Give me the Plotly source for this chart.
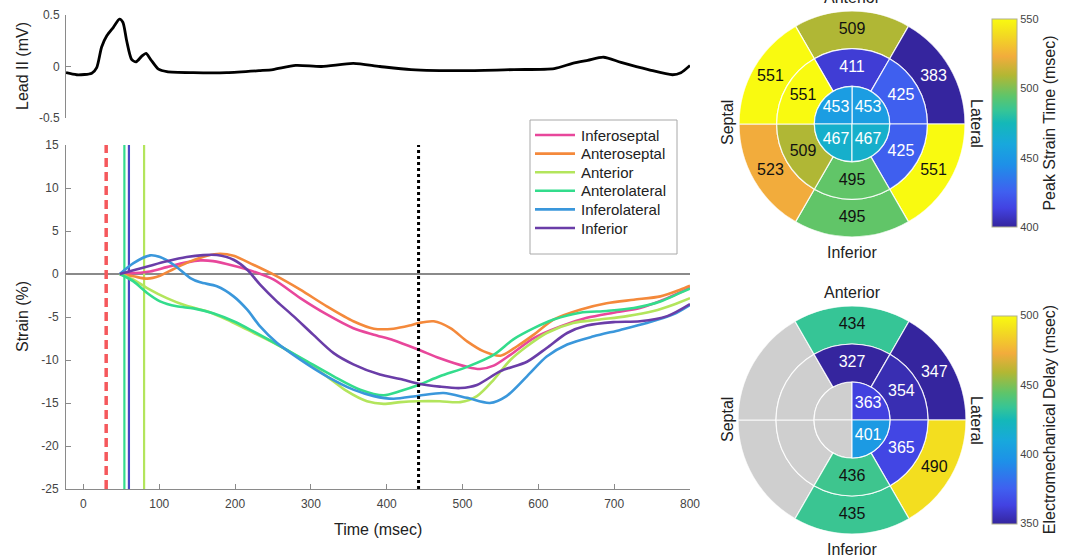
import plotly.graph_objects as go

W, H = 1077, 559
FONT = "Arial, Liberation Sans, sans-serif"

# ---------------- ECG (Lead II) ----------------
ecg_time = [-23, -9, 11, 17.5, 24, 31, 39.5, 47.5, 52, 57, 63.5, 69.5, 77, 82.5, 88.5, 99, 110,
            145, 189, 233, 250, 280, 314, 356, 391, 432, 503, 568, 621, 645, 665, 686, 709,
            745, 777, 788, 800]
ecg_mv = [-0.06, -0.08, -0.065, -0.01, 0.19, 0.30, 0.38, 0.46, 0.43, 0.25, 0.07, 0.046, 0.10,
          0.127, 0.07, -0.026, -0.05, -0.06, -0.06, -0.04, -0.03, 0.01, 0.0, 0.03, 0.0, -0.03,
          -0.04, -0.03, -0.02, 0.03, 0.06, 0.09, 0.04, -0.03, -0.08, -0.06, 0.01]

# ---------------- Segmental strain curves ----------------
segment_names = ["Inferoseptal", "Anteroseptal", "Anterior", "Anterolateral", "Inferolateral", "Inferior"]
segment_colors = ["#E8479B", "#F4893B", "#B3E55C", "#33DC8C", "#3A97DB", "#6A3DA8"]

t_inferoseptal = [48, 66, 88, 110, 136, 154, 171, 198, 224, 251, 286, 321, 356, 383, 409, 442, 470,
                  506, 523, 541, 563, 594, 629, 664, 699, 734, 770, 800]
s_inferoseptal = [0, 0.1, 0.3, 0.8, 1.35, 1.58, 1.5, 0.96, 0.3, -0.66, -2.8, -4.7, -6.3, -7.05, -7.7,
                  -8.8, -9.8, -10.8, -11.05, -10.66, -9.4, -7.45, -6.1, -5.1, -4.5, -3.96, -2.8, -1.6]

t_anteroseptal = [48, 66, 84, 101, 119, 141, 163, 180, 198, 224, 251, 286, 321, 356, 383, 409, 430,
                  442, 462, 484, 506, 528, 550, 572, 594, 620, 655, 690, 726, 761, 787, 800]
s_anteroseptal = [0, -0.27, -0.54, -0.2, 0.58, 1.47, 2.13, 2.36, 2.13, 1.08, -0.08, -1.82, -3.76,
                  -5.5, -6.36, -6.36, -6.0, -5.7, -5.5, -6.3, -7.83, -9.0, -9.5, -8.4, -7.05, -5.3,
                  -4.15, -3.4, -2.99, -2.6, -1.83, -1.36]

t_anterior = [48, 66, 84, 110, 136, 163, 189, 216, 251, 286, 321, 347, 374, 396, 418, 442, 470, 497,
              519, 541, 563, 585, 611, 646, 681, 717, 752, 778, 800]
s_anterior = [0, -0.66, -1.63, -2.8, -3.7, -4.34, -5.3, -6.47, -8.0, -9.77, -11.9, -13.6, -14.8,
              -15.1, -14.9, -14.8, -14.8, -14.9, -14.2, -12.3, -10.0, -8.4, -6.86, -5.7, -5.3, -4.9,
              -4.3, -3.57, -2.8]

t_anterolateral = [48, 66, 84, 101, 123, 145, 172, 198, 224, 260, 295, 330, 365, 396, 418, 442, 470,
                   506, 541, 567, 594, 620, 655, 690, 726, 761, 787, 800]
s_anterolateral = [0, -0.86, -2.2, -3.18, -3.76, -4.0, -4.6, -5.5, -6.67, -8.4, -10.16, -11.9, -13.45,
                   -14.1, -13.6, -12.9, -11.9, -10.8, -9.4, -7.6, -6.3, -5.3, -4.5, -4.3, -3.96, -3.2,
                   -2.2, -1.7]

t_inferolateral = [48, 66, 88, 101, 119, 141, 154, 176, 198, 216, 233, 255, 286, 321, 356, 383, 409,
                   442, 475, 506, 536, 558, 585, 611, 638, 673, 708, 743, 778, 800]
s_inferolateral = [0, 1.27, 2.17, 1.97, 1.08, -0.47, -0.97, -1.43, -2.6, -4.15, -6.1, -8.0, -9.96,
                   -11.9, -13.45, -14.2, -14.5, -14.15, -13.84, -14.4, -15.0, -14.2, -11.9, -9.6,
                   -8.2, -7.25, -6.5, -5.7, -4.7, -3.6]

t_inferior = [48, 66, 88, 110, 136, 158, 176, 198, 216, 233, 255, 277, 303, 330, 356, 391, 418, 442,
              470, 497, 519, 550, 585, 611, 638, 664, 699, 734, 770, 800]
s_inferior = [0, 0.43, 0.96, 1.47, 1.97, 2.2, 2.2, 1.66, 0.5, -1.24, -3.18, -4.9, -7.05, -9.2, -10.5,
              -11.7, -12.2, -12.75, -13.1, -13.26, -12.9, -11.3, -10.2, -8.6, -6.86, -6.0, -5.6, -5.5,
              -4.9, -3.5]

strain_times = [t_inferoseptal, t_anteroseptal, t_anterior, t_anterolateral, t_inferolateral, t_inferior]
strain_values = [s_inferoseptal, s_anteroseptal, s_anterior, s_anterolateral, s_inferolateral, s_inferior]

# event markers (msec)
qrs_onset = 30
onset_times = [54, 60, 80]
onset_colors = ["#33DC8C", "#4848C4", "#B3E55C"]
avc_time = 442

# ---------------- Bull's-eye data ----------------
basal_angles = [90, 30, -30, -90, -150, 150]
mid_angles = [90, 30, -30, -90, -150, 150]
apical_angles = [45, 135, 225, 315]

pst_basal = [509, 383, 551, 495, 523, 551]
pst_mid = [411, 425, 425, 495, 509, 551]
pst_apical = [453, 453, 467, 467]

emd_basal = [434, 347, 490, 435, None, None]
emd_mid = [327, 354, 365, 436, None, None]
emd_apical = [363, None, None, 401]

# parula-like colour map (as rendered in the reference)
CMAP = [[0.00, "#35259E"], [0.09, "#4242E2"], [0.17, "#3F60F0"], [0.30, "#1E90E8"],
        [0.40, "#18A8DC"], [0.50, "#14B8B8"], [0.56, "#36C596"], [0.63, "#5EC56A"],
        [0.73, "#B3B733"], [0.82, "#F2AC3C"], [0.93, "#F3DD20"], [1.00, "#F9FA10"]]

fig = go.Figure()

# ECG
fig.add_trace(go.Scatter(x=ecg_time, y=ecg_mv, mode="lines", xaxis="x", yaxis="y",
                         line=dict(color="black", width=2.8, shape="spline", smoothing=0.7),
                         showlegend=False, hoverinfo="skip"))

# vertical markers
fig.add_trace(go.Scatter(x=[qrs_onset, qrs_onset], y=[-25, 15], mode="lines", xaxis="x2", yaxis="y2",
                         line=dict(color="#F5585C", width=3.5, dash="9px,5px"),
                         showlegend=False, hoverinfo="skip"))
for t, c in zip(onset_times, onset_colors):
    fig.add_trace(go.Scatter(x=[t, t], y=[-25, 15], mode="lines", xaxis="x2", yaxis="y2",
                             line=dict(color=c, width=2.2), showlegend=False, hoverinfo="skip"))

# strain curves
for name, col, tt, ss in zip(segment_names, segment_colors, strain_times, strain_values):
    fig.add_trace(go.Scatter(x=tt, y=ss, mode="lines", name=name, xaxis="x2", yaxis="y2",
                             line=dict(color=col, width=2.6, shape="spline", smoothing=0.8),
                             showlegend=False))

fig.add_trace(go.Scatter(x=[avc_time, avc_time], y=[-25, 15], mode="lines", xaxis="x2", yaxis="y2",
                         line=dict(color="black", width=3, dash="dot"),
                         showlegend=False, hoverinfo="skip"))


def add_bullseye(subplot, basal, mid, apical, cmin, cmax, cbar):
    rings = [(basal_angles, basal, 2, 60, 2.5), (mid_angles, mid, 1, 60, 1.5),
             (apical_angles, apical, 0, 90, 0.6)]
    th, base, wid, val = [], [], [], []
    gth, gbase, gwid = [], [], []
    tth, tr, ttext, tcol = [], [], [], []
    for angles, values, r0, w, rt in rings:
        for a, v in zip(angles, values):
            if v is None:
                gth.append(a); gbase.append(r0); gwid.append(w)
            else:
                th.append(a); base.append(r0); wid.append(w); val.append(v)
                tth.append(a); tr.append(rt); ttext.append(str(v))
                tcol.append("white" if (v - cmin) / (cmax - cmin) < 0.5 else "#111111")
    edge = dict(color="rgba(255,255,255,0.85)", width=1.2)
    if gth:
        fig.add_trace(go.Barpolar(theta=gth, r=[1] * len(gth), base=gbase, width=gwid,
                                  marker=dict(color="#CFCFCF", line=edge),
                                  subplot=subplot, showlegend=False, hoverinfo="skip"))
    fig.add_trace(go.Barpolar(theta=th, r=[1] * len(th), base=base, width=wid,
                              marker=dict(color=val, colorscale=CMAP, cmin=cmin, cmax=cmax,
                                          line=edge, showscale=True, colorbar=cbar),
                              subplot=subplot, showlegend=False, hoverinfo="skip"))
    fig.add_trace(go.Scatterpolar(theta=tth, r=tr, text=ttext, mode="text",
                                  textfont=dict(size=16, color=tcol, family=FONT),
                                  subplot=subplot, showlegend=False, hoverinfo="skip"))


def cbar(title, ycenter, ticks):
    return dict(x=992 / W, xanchor="left", xpad=0, ypad=0, y=(H - ycenter) / H, yanchor="middle",
                len=208 / H, lenmode="fraction", thickness=25, thicknessmode="pixels",
                outlinewidth=1, outlinecolor="#B0B090", tickvals=ticks, ticks="",
                tickfont=dict(size=11, color="#444444", family=FONT),
                title=dict(text=title, side="right", font=dict(size=16, color="#222222", family=FONT)))


add_bullseye("polar", pst_basal, pst_mid, pst_apical, 400, 550,
             cbar("Peak Strain Time (msec)", 123, [400, 450, 500, 550]))
add_bullseye("polar2", emd_basal, emd_mid, emd_apical, 350, 500,
             cbar("Electromechanical Delay (msec)", 419.5, [350, 400, 450, 500]))

polar_common = dict(bgcolor="rgba(0,0,0,0)", hole=0, bargap=0,
                    radialaxis=dict(visible=False, range=[0, 3]),
                    angularaxis=dict(visible=False, rotation=0, direction="counterclockwise"))

x_ticks = list(range(0, 801, 100))
y_ticks = list(range(-25, 16, 5))
ecg_ticks = [-0.5, 0, 0.5]

axis_common = dict(showgrid=False, showline=True, linecolor="#8A8A8A", linewidth=1,
                   ticks="inside", ticklen=5, tickcolor="#8A8A8A",
                   tickfont=dict(size=12, color="#444444", family=FONT), automargin=False)

fig.update_layout(
    width=W, height=H, template="none",
    paper_bgcolor="white", plot_bgcolor="white",
    margin=dict(l=0, r=0, t=0, b=0, autoexpand=False),
    font=dict(family=FONT, color="#222222"),
    xaxis=dict(domain=[66 / W, 690 / W], range=[-23, 800], visible=False, anchor="y"),
    yaxis=dict(domain=[(H - 118) / H, (H - 15) / H], range=[-0.5, 0.5], anchor="x",
               tickvals=ecg_ticks, ticktext=["%g" % v for v in ecg_ticks],
               zeroline=False, ticklabelstandoff=3, **axis_common),
    xaxis2=dict(domain=[66 / W, 690 / W], range=[-23, 800], anchor="y2",
                tickvals=x_ticks, ticktext=[str(v) for v in x_ticks], zeroline=False,
                ticklabelstandoff=4, **axis_common),
    yaxis2=dict(domain=[(H - 489) / H, (H - 145) / H], range=[-25, 15], anchor="x2",
                tickvals=y_ticks, ticktext=[str(v) for v in y_ticks],
                zeroline=True, zerolinecolor="#8A8A8A", zerolinewidth=1.5,
                ticklabelstandoff=4, **axis_common),
    polar=dict(domain=dict(x=[739 / W, 965 / W], y=[(H - 237) / H, (H - 11) / H]), **polar_common),
    polar2=dict(domain=dict(x=[738 / W, 966 / W], y=[(H - 534) / H, (H - 306) / H]), **polar_common),
    showlegend=False,
)

# legend box (drawn in paper coordinates)
LX0, LX1, LY0, LY1 = 530, 677, 120, 254
ROW0, ROWSTEP = 135, 18.6
fig.add_shape(type="rect", xref="paper", yref="paper", x0=LX0 / W, x1=LX1 / W,
              y0=(H - LY1) / H, y1=(H - LY0) / H, fillcolor="white",
              line=dict(color="#A8A8A8", width=1), layer="above")
for i, (name, col) in enumerate(zip(segment_names, segment_colors)):
    yy = (H - (ROW0 + i * ROWSTEP)) / H
    fig.add_shape(type="line", xref="paper", yref="paper", x0=535 / W, x1=575 / W, y0=yy, y1=yy,
                  line=dict(color=col, width=2.6), layer="above")
    fig.add_annotation(text=name, x=579 / W, y=yy, xref="paper", yref="paper", xanchor="left",
                       yanchor="middle", showarrow=False,
                       font=dict(size=15, color="#222222", family=FONT))

ann = dict(showarrow=False, xref="paper", yref="paper", font=dict(size=16, color="#222222", family=FONT))
labels = [
    ("Lead II (mV)", 22, 66, -90), ("Strain (%)", 22, 317, -90), ("Time (msec)", 378, 529, 0),
    ("Anterior", 852, -3, 0), ("Inferior", 852, 253, 0), ("Septal", 727, 123, -90), ("Lateral", 977, 123, 90),
    ("Anterior", 852, 292, 0), ("Inferior", 852, 549, 0), ("Septal", 727, 420, -90), ("Lateral", 977, 420, 90),
]
for text, px, py, ang in labels:
    fig.add_annotation(text=text, x=px / W, y=(H - py) / H, xanchor="center", yanchor="middle",
                       textangle=ang, **ann)

fig.write_html("out.html", config={"displayModeBar": False},
               post_script="document.body.style.margin='0px';document.body.style.overflow='hidden';")
